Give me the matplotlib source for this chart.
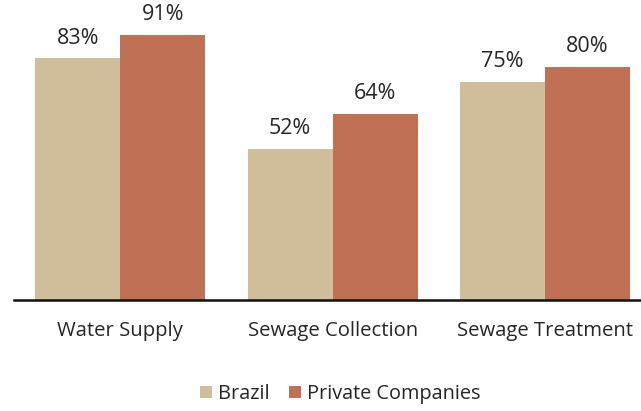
import matplotlib
matplotlib.use("Agg")
import matplotlib.pyplot as plt
import numpy as np

plt.rcParams['font.family'] = ['Open Sans', 'DejaVu Sans']

categories = ["Water Supply", "Sewage Collection", "Sewage Treatment"]
brazil = [83, 52, 75]
private = [91, 64, 80]
series_names = ["Brazil", "Private Companies"]
colors = ["#D0BE9A", "#C07155"]

fig = plt.figure(figsize=(6.41, 4.11), dpi=100)
ax = fig.add_axes([14/641, 1-300/411, 1-14/641, 300/411])

x = np.arange(len(categories))
w = 0.4
b1 = ax.bar(x - w/2, brazil, w, color=colors[0], label=series_names[0])
b2 = ax.bar(x + w/2, private, w, color=colors[1], label=series_names[1])

for bars, vals in ((b1, brazil), (b2, private)):
    for r, v in zip(bars, vals):
        ax.text(r.get_x() + r.get_width()/2, v + 3.3, f"{v}%", ha='center', va='bottom',
                fontsize=15.5, color='#262626')

ax.set_xlim(-0.5, 2.452)
ax.set_ylim(0, 103)
ax.set_yticks([])
ax.set_xticks(x)
ax.set_xticklabels(categories, fontsize=14.6, color='#262626')
ax.tick_params(axis='x', length=0, pad=15)
for s in ['top', 'right', 'left']:
    ax.spines[s].set_visible(False)
ax.spines['bottom'].set_linewidth(1.8)
ax.spines['bottom'].set_color('#111111')

fig.legend(handles=[b1, b2], loc='center', bbox_to_anchor=(340/641, 1-394/411), ncol=2,
           frameon=False, fontsize=14.3, handlelength=0.6, handleheight=0.6,
           handletextpad=0.3, columnspacing=1.0, labelcolor='#262626')

fig.savefig("out.png", dpi=100)
